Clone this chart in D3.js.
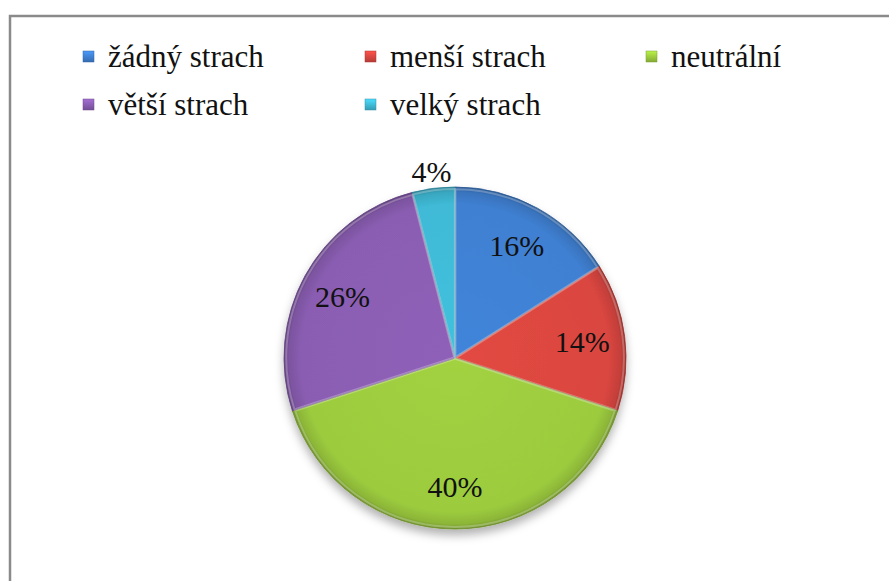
<!DOCTYPE html>
<html>
<head>
<meta charset="UTF-8" />
<title>Strach</title>
<script src="https://d3js.org/d3.v7.min.js"></script>
</head>
<body style="margin:0">
<svg width="889" height="581"></svg>
<script>
  // data
  const categories = ["žádný strach", "menší strach", "neutrální", "větší strach", "velký strach"];
  const values = [16, 14, 40, 26, 4];
  const colors = ["#3F80D2", "#DA4640", "#9CCB3E", "#8A5DB2", "#3FBAD6"];

  const svg = d3.select("svg");
  const font = '"Liberation Serif"';

  // ramecek grafu (presahuje okraj obrazku)
  svg.append("rect")
    .attr("x", 10).attr("y", 16)
    .attr("width", 900).attr("height", 600)
    .style("fill", "#fff")
    .style("stroke", "#8a8a8a")
    .style("stroke-width", 2.5);

  const defs = svg.append("defs");

  // stin pod kolacem
  const shadow = defs.append("filter").attr("id", "shadow")
    .attr("x", "-20%").attr("y", "-20%").attr("width", "140%").attr("height", "140%");
  shadow.append("feDropShadow")
    .attr("dx", 0).attr("dy", 6).attr("stdDeviation", 5)
    .attr("flood-color", "#000").attr("flood-opacity", 0.3);

  const center = { x: 455, y: 358 };
  const radius = 171;

  // gradienty pro vysece
  colors.forEach((c, i) => {
    const g = defs.append("radialGradient").attr("id", "grad" + i)
      .attr("gradientUnits", "userSpaceOnUse")
      .attr("cx", 0).attr("cy", 0).attr("r", radius);
    g.append("stop").attr("offset", "0%").attr("stop-color", d3.color(c).brighter(0.1));
    g.append("stop").attr("offset", "90%").attr("stop-color", c);
    g.append("stop").attr("offset", "97%").attr("stop-color", d3.color(c).darker(0.3));
    g.append("stop").attr("offset", "100%").attr("stop-color", d3.color(c).darker(0.9));

    // legenda
    const lg = defs.append("linearGradient").attr("id", "lgrad" + i)
      .attr("x1", 0).attr("y1", 0).attr("x2", 0).attr("y2", 1);
    lg.append("stop").attr("offset", "0%").attr("stop-color", d3.color(c).brighter(0.5));
    lg.append("stop").attr("offset", "100%").attr("stop-color", d3.color(c).darker(0.5));
  });

  const pie = d3.pie().sort(null).value(d => d);
  const arcs = pie(values);
  const arc = d3.arc().innerRadius(0).outerRadius(radius);
  const total = d3.sum(values);

  const g = svg.append("g").attr("transform", `translate(${center.x},${center.y})`);

  g.append("g").style("filter", "url(#shadow)")
    .selectAll("path")
    .data(arcs)
    .join("path")
    .attr("d", arc)
    .style("fill", (d, i) => `url(#grad${i})`)
    .style("stroke", (d, i) => d3.color(colors[i]).darker(1))
    .style("stroke-width", 0.8)
    .style("stroke-linejoin", "round");

  // svetly okraj (bevel)
  const bevel = d3.arc().innerRadius(0).outerRadius(radius - 3);
  g.append("g")
    .selectAll("path")
    .data(arcs)
    .join("path")
    .attr("d", bevel)
    .attr("transform", d => {
      const p = d3.arc().innerRadius(0).outerRadius(6).centroid(d);
      return `translate(${p[0] * 0.3},${p[1] * 0.3})`;
    })
    .style("fill", "none")
    .style("stroke", "#fff")
    .style("stroke-opacity", 0.25)
    .style("stroke-width", 2);

  // popisky
  const inner = d3.arc().innerRadius(radius * 0.75).outerRadius(radius * 0.75);
  const outer = d3.arc().innerRadius(radius * 1.1).outerRadius(radius * 1.1);
  g.selectAll("text")
    .data(arcs)
    .join("text")
    .attr("transform", d => {
      const p = (d.value / total < 0.08 ? outer : inner).centroid(d);
      return `translate(${p[0]},${p[1]})`;
    })
    .attr("dy", "0.35em")
    .style("font-family", font)
    .style("font-size", "30px")
    .style("fill", "#111")
    .style("text-anchor", "middle")
    .text(d => Math.round(d.value / total * 100) + "%");

  // legenda
  const legendPos = [[83, 67], [365, 67], [646, 67], [83, 115], [365, 115]];
  const legend = svg.append("g")
    .selectAll("g")
    .data(categories)
    .join("g")
    .attr("transform", (d, i) => `translate(${legendPos[i][0]},${legendPos[i][1]})`);

  legend.append("rect")
    .attr("x", 0).attr("y", -16)
    .attr("width", 11).attr("height", 11)
    .style("fill", (d, i) => `url(#lgrad${i})`)
    .style("stroke", (d, i) => d3.color(colors[i]).darker(0.7))
    .style("stroke-width", 0.5);

  legend.append("text")
    .attr("x", 25).attr("y", 0)
    .style("font-family", font)
    .style("font-size", "31px")
    .style("fill", "#111")
    .text(d => d);
</script>
</body>
</html>
